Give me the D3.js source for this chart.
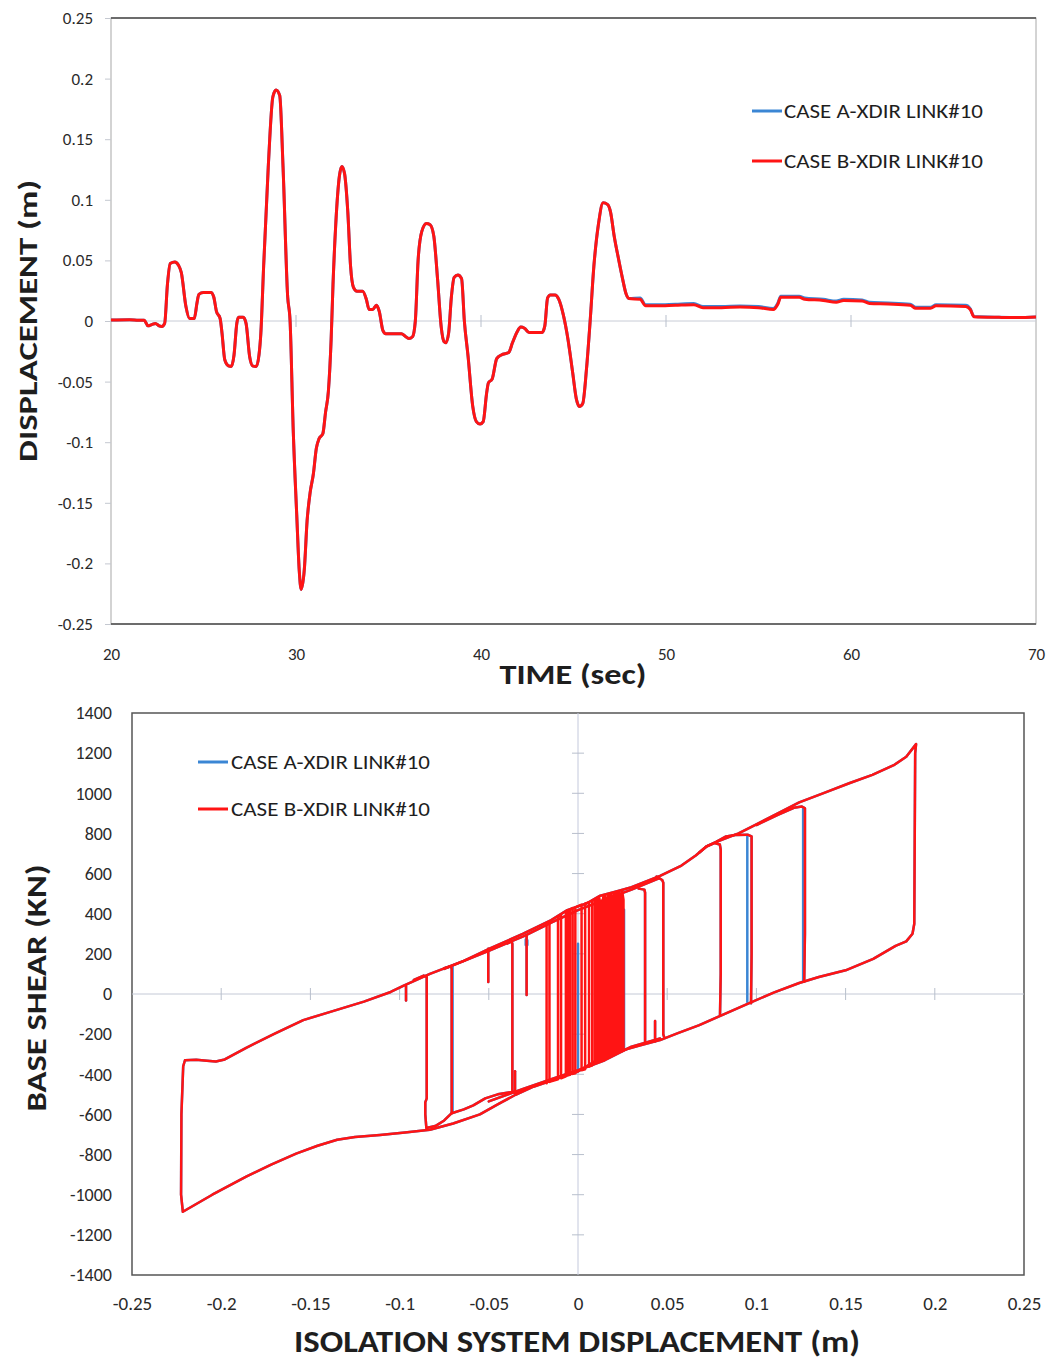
<!DOCTYPE html>
<html>
<head>
<meta charset="utf-8">
<title>Isolation displacement and hysteresis</title>
<script src="https://cdn.jsdelivr.net/npm/d3@7"></script>
<style>
    body { margin:0; background:#fff; }
    svg text { font-family: Carlito, Lato, "Open Sans", sans-serif; fill:#1e1e1e; }
    .tick line { stroke:#c4c8d0; }
    .tick text { fill:#2a2a2a; }
</style>
</head>
<body>
<svg id="svg" width="1053" height="1362"></svg>
<script>
// ---- data: displacement time history (sec, m) ----
// both cases are identical up to ~48 s
const timeShared = [
    [20,0.0008],[21,0.001],[21.5,0.0006],[21.8,0.0006],[22.0,-0.004],[22.2,-0.003],[22.4,-0.002],
    [22.6,-0.004],[22.75,-0.0045],[22.9,-0.002],[23.05,0.03],[23.2,0.0475],[23.45,0.0487],[23.65,0.046],
    [23.8,0.04],[24.05,0.012],[24.25,0.002],[24.5,0.002],[24.65,0.015],[24.75,0.022],[25.0,0.0235],
    [25.4,0.0235],[25.55,0.02],[25.7,0.008],[25.9,0.002],[26.0,-0.01],[26.15,-0.032],[26.35,-0.037],
    [26.5,-0.0375],[26.65,-0.028],[26.8,-0.002],[26.9,0.003],[27.15,0.003],[27.3,-0.002],[27.5,-0.03],
    [27.65,-0.037],[27.85,-0.0375],[28.0,-0.028],[28.1,-0.01],[28.25,0.045],[28.5,0.127],[28.75,0.185],
    [28.92,0.1905],[29.12,0.186],[29.3,0.127],[29.55,0.02],[29.68,0.0],[29.85,-0.09],[30.04,-0.16],
    [30.18,-0.207],[30.28,-0.2215],[30.45,-0.205],[30.6,-0.165],[30.76,-0.142],[30.94,-0.126],
    [31.1,-0.105],[31.25,-0.097],[31.45,-0.093],[31.6,-0.075],[31.75,-0.058],[31.9,-0.015],[32.0,0.03],
    [32.15,0.08],[32.35,0.12],[32.48,0.1275],[32.62,0.122],[32.8,0.09],[32.95,0.045],[33.1,0.028],
    [33.3,0.0245],[33.6,0.0245],[33.8,0.018],[33.95,0.0095],[34.15,0.0095],[34.35,0.013],[34.5,0.008],
    [34.7,-0.008],[34.85,-0.0105],[35.7,-0.0105],[35.9,-0.0125],[36.1,-0.0145],[36.3,-0.013],[36.45,0.0],
    [36.6,0.05],[36.8,0.074],[37.05,0.0805],[37.25,0.0795],[37.45,0.07],[37.65,0.035],[37.85,-0.005],
    [38.0,-0.017],[38.1,-0.018],[38.25,-0.01],[38.4,0.02],[38.55,0.036],[38.75,0.038],[38.95,0.035],
    [39.1,0.0],[39.3,-0.029],[39.55,-0.07],[39.75,-0.083],[39.95,-0.085],[40.12,-0.083],[40.3,-0.06],
    [40.4,-0.051],[40.6,-0.048],[40.85,-0.031],[41.1,-0.028],[41.5,-0.026],[41.7,-0.018],[41.95,-0.009],
    [42.15,-0.005],[42.35,-0.006],[42.6,-0.0095],[43.3,-0.0095],[43.45,-0.004],[43.6,0.019],[43.75,0.0215],
    [44.0,0.0215],[44.2,0.018],[44.45,0.005],[44.7,-0.015],[44.95,-0.042],[45.15,-0.064],[45.32,-0.0705],
    [45.5,-0.068],[45.7,-0.04],[45.9,0.0],[46.1,0.045],[46.35,0.08],[46.6,0.0975],[46.85,0.096],
    [47.0,0.09],[47.2,0.07],[47.45,0.05],[47.65,0.035],[47.85,0.022],[48.0,0.0185]
];
const timeTailA = [
    [48.0,0.0192],[48.6,0.0189],[48.9,0.0134],[49.5,0.0134],[50.5,0.0139],[51.5,0.0144],[52.0,0.0119],
    [53.0,0.0119],[54.0,0.0124],[55.0,0.0119],[55.8,0.0104],[56.05,0.0149],[56.2,0.0204],[57.2,0.0204],
    [57.5,0.0189],[58.5,0.0179],[59.2,0.0164],[59.6,0.0179],[60.6,0.0174],[61.0,0.0154],[62.0,0.0149],
    [63.2,0.0139],[63.5,0.0114],[64.3,0.0114],[64.6,0.0134],[66.2,0.0129],[66.45,0.0100],[66.65,0.0037],
    [68,0.0031],[69,0.0029],[70,0.0034]
];
const timeTailB = [
    [48.0,0.0185],[48.6,0.018],[48.9,0.0125],[49.5,0.0125],[50.5,0.013],[51.5,0.0135],[52.0,0.011],
    [53.0,0.011],[54.0,0.0115],[55.0,0.011],[55.8,0.0095],[56.05,0.014],[56.2,0.0195],[57.2,0.0195],
    [57.5,0.018],[58.5,0.017],[59.2,0.0155],[59.6,0.017],[60.6,0.0165],[61.0,0.0145],[62.0,0.014],
    [63.2,0.013],[63.5,0.0105],[64.3,0.0105],[64.6,0.0125],[66.2,0.012],[66.45,0.0095],[66.65,0.0035],
    [68,0.003],[69,0.0028],[70,0.0033]
];

// ---- data: hysteresis, isolation displacement (m) vs base shear (kN) ----
const loopOuter = [
    [-0.2203,-330],[-0.214,-328],[-0.208,-332],[-0.203,-336],[-0.198,-326],[-0.186,-268],[-0.170,-198],
    [-0.154,-130],[-0.137,-84],[-0.120,-38],[-0.105,10],[-0.098,40],[-0.083,100],[-0.064,165],
    [-0.049,228],[-0.031,300],[-0.015,368],[-0.006,418],[0.005,452],[0.012,488],[0.022,512],[0.030,532],
    [0.046,588],[0.058,640],[0.066,690],[0.072,735],[0.078,760],[0.090,800],[0.100,845],[0.112,900],
    [0.124,955],[0.138,1002],[0.152,1050],[0.165,1092],[0.177,1140],[0.184,1182],[0.1895,1245],
    [0.189,1200],[0.1885,350],[0.1875,300],[0.184,262],[0.178,240],[0.1655,175],[0.150,118],[0.135,85],
    [0.124,55],[0.110,8],[0.096,-45],[0.082,-100],[0.068,-155],[0.056,-195],[0.046,-230],[0.035,-256],
    [0.025,-280],[0.012,-322],[0.000,-386],[-0.012,-422],[-0.025,-462],[-0.035,-502],[-0.044,-545],
    [-0.055,-600],[-0.070,-645],[-0.083,-676],[-0.097,-690],[-0.111,-702],[-0.125,-712],[-0.135,-726],
    [-0.146,-756],[-0.158,-795],[-0.172,-850],[-0.186,-910],[-0.205,-1000],[-0.2215,-1085],
    [-0.2225,-1000],[-0.2223,-600],[-0.2213,-360],[-0.2203,-330]
];
const loopInner = [
    [[0.100,842],[0.112,893],[0.121,928],[0.1255,934],[0.1272,925],[0.1272,300],[0.1268,62]],
    [[0.078,760],[0.083,785],[0.088,792],[0.095,794],[0.0973,785],[0.0973,200],[0.0970,-46]],
    [[0.068,705],[0.072,735],[0.0765,752],[0.0795,745],[0.0800,720],[0.0800,100],[0.0796,-105]],
    [[0.044,585],[0.0472,568],[0.0478,555],[0.0478,-200],[0.0482,-212]],
    [[0.034,525],[0.0372,520],[0.0376,505],[0.0376,-240]],
    [[0.0432,-236],[0.0432,-135]],
    [[0.0217,-292],[0.0217,-250]],
    [[-0.092,70],[-0.0865,92],[-0.0848,85],[-0.0848,-520],[-0.0856,-540],[-0.0856,-600],[-0.0850,-668],
     [-0.080,-658],[-0.075,-630],[-0.0708,-594]],
    [[-0.075,128],[-0.0712,138],[-0.0708,125],[-0.0708,-594],[-0.064,-575],[-0.0587,-555],[-0.052,-520],
     [-0.045,-500],[-0.038,-490],[-0.0344,-488],[-0.030,-478]],
    [[-0.0395,252],[-0.0372,262],[-0.0368,250],[-0.0368,-480],[-0.0364,-488]],
    [[-0.0353,-495],[-0.0353,-385]],
    [[-0.0964,40],[-0.0964,-32]],
    [[-0.0503,225],[-0.0503,60]],
    [[-0.0288,292],[-0.0288,-5]],
    [[-0.075,125],[-0.050,215],[-0.030,290],[-0.015,355],[0.000,418],[0.015,470],[0.030,520],[0.045,575]],
    [[-0.050,-535],[-0.030,-470],[-0.015,-425],[0.000,-380],[0.015,-330],[0.030,-262],[0.046,-222]]
];
const loopCoreB = [
    [-0.0176,-445],[-0.0176,352],[-0.0160,360],[-0.0160,-438],[-0.0112,-425],[-0.0112,385],[-0.0095,392],
    [-0.0095,-420],[-0.0068,-410],[-0.0068,410],[-0.0058,415],[-0.0058,-405],[-0.0045,-402],[-0.0045,420],
    [-0.0030,428],[-0.0030,-398],[-0.0015,-395],[-0.0015,432],[0.0020,445],[0.0020,-380],[0.0040,-375],
    [0.0040,450],[0.0062,458],[0.0062,-362],[0.0080,-355],[0.0080,465],
    [0.0095,470],[0.0095,-345],[0.0103,-342],[0.0103,474],[0.0111,478],[0.0111,-338],[0.0119,-335],
    [0.0119,480],[0.0127,440],[0.0127,-332],[0.0135,-328],[0.0135,448],[0.0143,488],[0.0143,-325],
    [0.0151,-322],[0.0151,490],[0.0159,455],[0.0159,-318],[0.0167,-315],[0.0167,494],[0.0175,498],
    [0.0175,-312],[0.0183,-308],[0.0183,500],[0.0191,470],[0.0191,-305],[0.0199,-302],[0.0199,504],
    [0.0207,506],[0.0207,-298],[0.0215,-295],[0.0215,508],[0.0223,510],[0.0223,-292],[0.0231,-290],
    [0.0231,512],[0.0239,430],[0.0239,-288],[0.0247,-285],[0.0247,515],[0.0255,470],[0.0255,-282]
];
const loopOnlyA = [
    [[0.0949,790],[0.0949,-40]],
    [[0.1262,930],[0.1262,62]],
    [[0.0000,250],[0.0000,-385]],
    [[0.0258,420],[0.0258,-275]],
    [[-0.0703,140],[-0.0703,-590]],
    [[-0.0293,272],[-0.0293,244],[-0.0284,244],[-0.0284,268]]
];

// ---- tick values ----
const timeTicks = [20,30,40,50,60,70];
const dispTicks = [-0.25,-0.2,-0.15,-0.1,-0.05,0,0.05,0.1,0.15,0.2,0.25];
const isoTicks = [-0.25,-0.2,-0.15,-0.1,-0.05,0,0.05,0.1,0.15,0.2,0.25];
const shearTicks = [-1400,-1200,-1000,-800,-600,-400,-200,0,200,400,600,800,1000,1200,1400];

const seriesNames = ["CASE A-XDIR LINK#10","CASE B-XDIR LINK#10"];
const seriesColors = ["#3b86d4","#ff1414"];

let svg = d3.select('#svg');

// ================= TOP: displacement vs time =================
let xT = d3.scaleLinear().domain([20,70]).range([111,1036]);
let yT = d3.scaleLinear().domain([-0.25,0.25]).range([624,18]);

// frame
svg.append('rect')
    .attr('x',xT(20)).attr('y',yT(0.25))
    .attr('width',xT(70)-xT(20)).attr('height',yT(-0.25)-yT(0.25))
    .attr('fill','none').attr('stroke','#a8a8a8');
[0.25,-0.25].forEach(v => {
    svg.append('line')
        .attr('x1',xT(20)).attr('x2',xT(70)).attr('y1',yT(v)).attr('y2',yT(v))
        .attr('stroke','#4a4a4a').attr('stroke-width',1.5);
});
// zero line with time ticks
svg.append('line')
    .attr('x1',xT(20)).attr('x2',xT(70)).attr('y1',yT(0)).attr('y2',yT(0))
    .attr('stroke','#c8ccd6');
svg.append('g').selectAll('line').data(timeTicks.slice(1,-1)).join('line')
    .attr('x1',d => xT(d)).attr('x2',d => xT(d))
    .attr('y1',yT(0)-6).attr('y2',yT(0)+6)
    .attr('stroke','#b8bfcc');

let yAxisT = d3.axisLeft(yT).tickValues(dispTicks).tickSize(6).tickPadding(12)
    .tickFormat(d => String(d));
svg.append('g').attr('transform',`translate(${xT(20)},0)`).call(yAxisT)
    .call(g => g.select('.domain').remove())
    .selectAll('text').style('font-size','17px');

let xAxisT = d3.axisBottom(xT).tickValues(timeTicks).tickSize(0).tickPadding(24)
    .tickFormat(d => String(d));
svg.append('g').attr('transform',`translate(0,${yT(-0.25)})`).call(xAxisT)
    .call(g => g.select('.domain').remove())
    .selectAll('text').style('font-size','17px');

// lines
let lineT = d3.line().x(d => xT(d[0])).y(d => yT(d[1])).curve(d3.curveMonotoneX);
svg.append('path').datum(timeShared.concat(timeTailA.slice(1)))
    .attr('d',lineT).attr('fill','none')
    .attr('stroke',seriesColors[0]).attr('stroke-width',3).attr('stroke-linejoin','round');
svg.append('path').datum(timeShared.concat(timeTailB.slice(1)))
    .attr('d',lineT).attr('fill','none')
    .attr('stroke',seriesColors[1]).attr('stroke-width',3).attr('stroke-linejoin','round');

// titles
svg.append('text')
    .attr('transform','translate(37,321) rotate(-90)')
    .attr('text-anchor','middle')
    .attr('textLength',282).attr('lengthAdjust','spacingAndGlyphs')
    .style('font-size','26px').style('font-weight','bold')
    .text('DISPLACEMENT (m)');
svg.append('text')
    .attr('x',573).attr('y',684).attr('text-anchor','middle')
    .attr('textLength',147).attr('lengthAdjust','spacingAndGlyphs')
    .style('font-size','28px').style('font-weight','bold')
    .text('TIME (sec)');

// legend
seriesNames.forEach((name,i) => {
    let ly = 111 + i*50;
    svg.append('line').attr('x1',752).attr('x2',782).attr('y1',ly).attr('y2',ly)
        .attr('stroke',seriesColors[i]).attr('stroke-width',3);
    svg.append('text').attr('x',784).attr('y',ly+7)
        .attr('textLength',199).attr('lengthAdjust','spacingAndGlyphs')
        .style('font-size','20px').text(name);
});

// ================= BOTTOM: base shear vs displacement =================
let xH = d3.scaleLinear().domain([-0.25,0.25]).range([132,1024]);
let yH = d3.scaleLinear().domain([-1400,1400]).range([1275,713]);

svg.append('rect')
    .attr('x',xH(-0.25)).attr('y',yH(1400))
    .attr('width',xH(0.25)-xH(-0.25)).attr('height',yH(-1400)-yH(1400))
    .attr('fill','none').attr('stroke','#555').attr('stroke-width',1.5);

// axes through the origin
svg.append('line')
    .attr('x1',xH(-0.25)).attr('x2',xH(0.25)).attr('y1',yH(0)).attr('y2',yH(0))
    .attr('stroke','#c4c9d6');
svg.append('line')
    .attr('x1',xH(0)).attr('x2',xH(0)).attr('y1',yH(1400)).attr('y2',yH(-1400))
    .attr('stroke','#c4c9dc');
svg.append('g').selectAll('line').data(isoTicks.slice(1,-1)).join('line')
    .attr('x1',d => xH(d)).attr('x2',d => xH(d))
    .attr('y1',yH(0)-6).attr('y2',yH(0)+6).attr('stroke','#b8bfcc');
svg.append('g').selectAll('line').data(shearTicks.slice(1,-1)).join('line')
    .attr('x1',xH(0)-6).attr('x2',xH(0)+6)
    .attr('y1',d => yH(d)).attr('y2',d => yH(d)).attr('stroke','#b8bfcc');

let yAxisH = d3.axisLeft(yH).tickValues(shearTicks).tickSize(0).tickPadding(20)
    .tickFormat(d => String(d));
svg.append('g').attr('transform',`translate(${xH(-0.25)},0)`).call(yAxisH)
    .call(g => g.select('.domain').remove())
    .selectAll('text').style('font-size','18px');

let xAxisH = d3.axisBottom(xH).tickValues(isoTicks).tickSize(0).tickPadding(22)
    .tickFormat(d => String(d));
svg.append('g').attr('transform',`translate(0,${yH(-1400)})`).call(xAxisH)
    .call(g => g.select('.domain').remove())
    .selectAll('text').style('font-size','19px');

// loops
let lineH = d3.line().x(d => xH(d[0])).y(d => yH(d[1]));
let strokesA = [loopOuter].concat(loopInner, loopOnlyA);
let strokesB = [loopOuter].concat(loopInner, [loopCoreB]);
[strokesA, strokesB].forEach((strokes,i) => {
    svg.append('g').selectAll('path').data(strokes).join('path')
        .attr('d',lineH).attr('fill','none')
        .attr('stroke',seriesColors[i]).attr('stroke-width',2.5)
        .attr('stroke-linejoin','round').attr('stroke-linecap','round');
});

svg.append('text')
    .attr('transform','translate(46,988) rotate(-90)')
    .attr('text-anchor','middle')
    .attr('textLength',247).attr('lengthAdjust','spacingAndGlyphs')
    .style('font-size','28px').style('font-weight','bold')
    .text('BASE SHEAR (KN)');
svg.append('text')
    .attr('x',577).attr('y',1352).attr('text-anchor','middle')
    .attr('textLength',566).attr('lengthAdjust','spacingAndGlyphs')
    .style('font-size','30px').style('font-weight','bold')
    .text('ISOLATION SYSTEM DISPLACEMENT (m)');

seriesNames.forEach((name,i) => {
    let ly = 762 + i*47;
    svg.append('line').attr('x1',198).attr('x2',228).attr('y1',ly).attr('y2',ly)
        .attr('stroke',seriesColors[i]).attr('stroke-width',3);
    svg.append('text').attr('x',231).attr('y',ly+7)
        .attr('textLength',199).attr('lengthAdjust','spacingAndGlyphs')
        .style('font-size','20px').text(name);
});
</script>
</body>
</html>
